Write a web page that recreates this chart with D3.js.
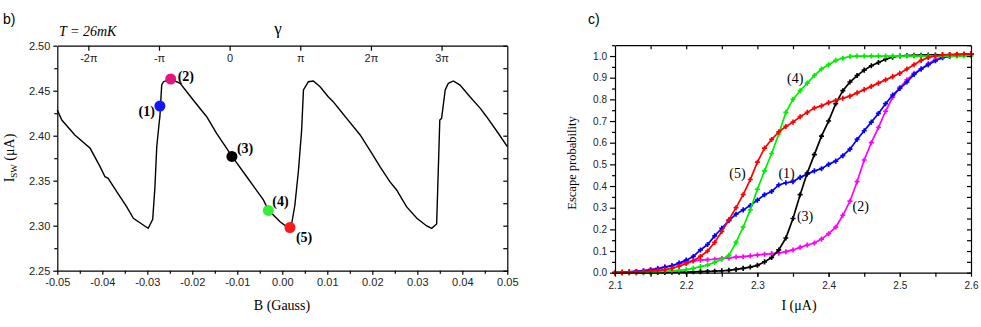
<!DOCTYPE html>
<html lang="en">
<head>
<meta charset="utf-8">
<script src="https://cdnjs.cloudflare.com/ajax/libs/d3/7.8.5/d3.min.js"></script>
<style>
  body { margin: 0; background: #fff; }
  .tick text { font-family: Arial, 'Liberation Sans', sans-serif; fill: #222; }
  .domain, .tick line { stroke: #000; stroke-width: 1.2; }
  .serif { font-family: 'Times New Roman', 'Liberation Serif', serif; fill: #000; }
  .sans { font-family: Arial, 'Liberation Sans', sans-serif; fill: #000; }
</style>
</head>
<body>
<svg id="fig" width="981" height="327"></svg>
<script>
// ---- panel b) : switching current vs field ----
const fieldB = [-0.05, -0.049, -0.0461, -0.0427, -0.0405, -0.0394, -0.0387, -0.0368, -0.0346, -0.0331,
  -0.0309, -0.0298, -0.0288, -0.0283, -0.0279, -0.0273, -0.0272, -0.0268, -0.0264, -0.0248,
  -0.0227, -0.0198, -0.0168, -0.0146, -0.0112, -0.0079, -0.0042, -0.0031, -0.0005, 0.001,
  0.0017, 0.0021, 0.0028, 0.0036, 0.0043, 0.0047, 0.0058, 0.0069, 0.0084, 0.0102,
  0.0113, 0.0128, 0.0143, 0.0173, 0.0199, 0.0217, 0.0239, 0.0254, 0.0276, 0.0299,
  0.0321, 0.0332, 0.0343, 0.035, 0.0354, 0.0362, 0.0369, 0.038, 0.0395, 0.0417,
  0.044, 0.0454, 0.048, 0.05]
const switchI = [2.4286, 2.4174, 2.4008, 2.386, 2.3656, 2.3544, 2.3527, 2.3378, 2.3211, 2.3082,
  2.3008, 2.2971, 2.3071, 2.3433, 2.3878, 2.4174, 2.4211, 2.4563, 2.46, 2.463,
  2.4582, 2.4397, 2.4211, 2.4027, 2.3774, 2.3544, 2.3286, 2.3174, 2.3044, 2.2989,
  2.2989, 2.3027, 2.323, 2.3619, 2.4063, 2.4508, 2.46, 2.4608, 2.4544, 2.4433,
  2.4378, 2.4286, 2.4193, 2.4008, 2.3804, 2.3656, 2.3489, 2.3397, 2.3211, 2.3082,
  2.2997, 2.2971, 2.3019, 2.4174, 2.4193, 2.4508, 2.4582, 2.4608, 2.4563, 2.4433,
  2.4304, 2.4211, 2.4027, 2.3878]

const pointB = [-0.0272, -0.0248, -0.0112, -0.0031, 0.0017]
const pointI = [2.433, 2.463, 2.377, 2.317, 2.298]
const pointColor = ['#1414ff', '#e3167f', '#000000', '#33ee33', '#ff1a1a']
const pointLabel = ['(1)', '(2)', '(3)', '(4)', '(5)']

const bTicks = [-0.05, -0.04, -0.03, -0.02, -0.01, 0.00, 0.01, 0.02, 0.03, 0.04, 0.05]
const bMinor = [-0.045, -0.035, -0.025, -0.015, -0.005, 0.005, 0.015, 0.025, 0.035, 0.045]
const iTicks = [2.25, 2.30, 2.35, 2.40, 2.45, 2.50]
const iMinor = [2.275, 2.325, 2.375, 2.425, 2.475]
const gammaTicks = [-2, -1, 0, 1, 2, 3]
const gammaLabels = ['-2\u03c0', '-\u03c0', '0', '\u03c0', '2\u03c0', '3\u03c0']
const gammaZeroB = -0.0117, gaussPerPi = 0.0157

// ---- panel c) : escape probability ----
const probCurrent = [2.10, 2.11, 2.12, 2.13, 2.14, 2.15, 2.16, 2.17, 2.18, 2.19,
  2.20, 2.21, 2.22, 2.23, 2.24, 2.25, 2.26, 2.27, 2.28, 2.29,
  2.30, 2.31, 2.32, 2.33, 2.34, 2.35, 2.36, 2.37, 2.38, 2.39,
  2.40, 2.41, 2.42, 2.43, 2.44, 2.45, 2.46, 2.47, 2.48, 2.49,
  2.50, 2.51, 2.52, 2.53, 2.54, 2.55, 2.56, 2.57, 2.58, 2.59, 2.60]
const prob1 = [0, 0.002, 0.004, 0.006, 0.008, 0.012, 0.018, 0.025, 0.032, 0.045,
  0.058, 0.075, 0.105, 0.13, 0.17, 0.205, 0.24, 0.27, 0.29, 0.31,
  0.335, 0.36, 0.375, 0.405, 0.415, 0.42, 0.44, 0.455, 0.47, 0.48,
  0.50, 0.515, 0.54, 0.57, 0.615, 0.655, 0.695, 0.735, 0.78, 0.82,
  0.85, 0.88, 0.915, 0.94, 0.96, 0.978, 0.992, 0.998, 1.003, 1.007, 1.01]
const prob2 = [0, 0.002, 0.004, 0.006, 0.01, 0.015, 0.02, 0.027, 0.033, 0.04,
  0.05, 0.055, 0.058, 0.06, 0.062, 0.066, 0.068, 0.072, 0.074, 0.078,
  0.082, 0.085, 0.088, 0.09, 0.097, 0.105, 0.117, 0.128, 0.137, 0.155,
  0.18, 0.21, 0.265, 0.33, 0.42, 0.52, 0.60, 0.67, 0.745, 0.81,
  0.855, 0.89, 0.92, 0.94, 0.965, 0.985, 0.995, 1.0, 1.004, 1.007, 1.01]
const prob3 = [0, 0, 0, 0, 0, 0, 0.001, 0.001, 0.002, 0.002,
  0.003, 0.004, 0.005, 0.006, 0.007, 0.009, 0.011, 0.015, 0.02, 0.026,
  0.034, 0.05, 0.07, 0.105, 0.16, 0.25, 0.36, 0.46, 0.545, 0.63,
  0.70, 0.78, 0.84, 0.88, 0.91, 0.935, 0.955, 0.97, 0.985, 0.995,
  1.0, 1.002, 1.003, 1.004, 1.005, 1.005, 1.006, 1.006, 1.007, 1.007, 1.007]
const prob4 = [0, 0, 0, 0, 0.001, 0.002, 0.004, 0.006, 0.008, 0.011,
  0.014, 0.02, 0.028, 0.035, 0.048, 0.062, 0.08, 0.14, 0.21, 0.29,
  0.385, 0.47, 0.55, 0.64, 0.74, 0.80, 0.84, 0.875, 0.91, 0.94,
  0.96, 0.98, 0.99, 0.998, 1.0, 1.0, 1.0, 1.0, 1.0, 1.0,
  1.0, 1.0, 1.0, 1.0, 1.0, 1.0, 1.0, 1.0, 1.0, 1.0, 1.0]
const prob5 = [0, 0.001, 0.002, 0.003, 0.005, 0.007, 0.01, 0.014, 0.02, 0.03,
  0.042, 0.055, 0.075, 0.10, 0.14, 0.19, 0.245, 0.30, 0.36, 0.43,
  0.51, 0.575, 0.615, 0.65, 0.675, 0.695, 0.72, 0.74, 0.76, 0.77,
  0.785, 0.795, 0.805, 0.815, 0.83, 0.845, 0.86, 0.875, 0.89, 0.905,
  0.92, 0.94, 0.96, 0.98, 0.993, 1.0, 1.005, 1.007, 1.008, 1.009, 1.01]
const probSeries = [prob1, prob2, prob3, prob4, prob5]
const probColor = ['#0000ff', '#ff00ff', '#000000', '#00ee00', '#ff0000']
const drawOrder = [1, 0, 2, 3, 4]

// curve labels in data units (I, P)
const curveLabelI = [2.341, 2.445, 2.367, 2.353, 2.272]
const curveLabelP = [0.46, 0.308, 0.262, 0.898, 0.462]

const cTicks = [2.1, 2.2, 2.3, 2.4, 2.5, 2.6]
const cHalf = [2.15, 2.2, 2.25, 2.3, 2.35, 2.4, 2.45, 2.5, 2.55]
const pTicks = [0.0, 0.1, 0.2, 0.3, 0.4, 0.5, 0.6, 0.7, 0.8, 0.9, 1.0]
const pMinor = [0.05, 0.15, 0.25, 0.35, 0.45, 0.55, 0.65, 0.75, 0.85, 0.95, 1.05]

const svg = d3.select('#fig')

// ================= panel b =================
const xB = d3.scaleLinear().domain([-0.05, 0.05]).range([57.3, 507.3])
const yB = d3.scaleLinear().domain([2.25, 2.50]).range([270.7, 45.7])
const pb = svg.append('g')

pb.append('g').attr('transform', 'translate(0,' + yB(2.25) + ')')
    .call(d3.axisBottom(xB).tickValues(bTicks).tickSize(4).tickSizeOuter(0).tickPadding(4)
        .tickFormat(d => d.toFixed(2)))
    .selectAll('text').attr('font-size', 11)
pb.append('g').attr('transform', 'translate(0,' + yB(2.25) + ')')
    .call(d3.axisBottom(xB).tickValues(bMinor).tickSize(3).tickFormat(''))
    .select('.domain').remove()
pb.append('g').attr('transform', 'translate(' + xB(-0.05) + ',0)')
    .call(d3.axisLeft(yB).tickValues(iTicks).tickSize(4).tickSizeOuter(0).tickPadding(3)
        .tickFormat(d => d.toFixed(2)))
    .selectAll('text').attr('font-size', 11)
pb.append('g').attr('transform', 'translate(' + xB(-0.05) + ',0)')
    .call(d3.axisLeft(yB).tickValues(iMinor).tickSize(3).tickFormat(''))
    .select('.domain').remove()
pb.append('g').attr('transform', 'translate(' + xB(0.05) + ',0)')
    .call(d3.axisLeft(yB).tickValues(iTicks.concat(iMinor)).tickSize(4).tickSizeOuter(0).tickFormat(''))
pb.append('g').attr('transform', 'translate(0,' + yB(2.50) + ')')
    .call(d3.axisBottom(xB).tickValues(gammaTicks.map(k => gammaZeroB + k * gaussPerPi))
        .tickSize(5).tickSizeOuter(0).tickPadding(4).tickFormat((d, i) => gammaLabels[i]))
    .selectAll('text').attr('font-size', 11)

pb.append('path')
    .datum(fieldB.map((b, i) => [b, switchI[i]]))
    .attr('fill', 'none').attr('stroke', '#000').attr('stroke-width', 1.4)
    .attr('d', d3.line().x(d => xB(d[0])).y(d => yB(d[1])))

const ldx = [-5, 7, 5, 4, 6], ldy = [10, 2, -3, -4, 14]
pointB.forEach((b, i) => {
    pb.append('circle').attr('cx', xB(b)).attr('cy', yB(pointI[i])).attr('r', 5.5)
        .attr('fill', pointColor[i])
    pb.append('text').attr('class', 'serif')
        .attr('x', xB(b) + ldx[i]).attr('y', yB(pointI[i]) + ldy[i])
        .attr('text-anchor', i === 0 ? 'end' : 'start')
        .attr('font-size', 14).attr('font-weight', 'bold').text(pointLabel[i])
})

svg.append('text').attr('class', 'sans').attr('x', 3).attr('y', 24).attr('font-size', 14).text('b)')
svg.append('text').attr('class', 'serif').attr('x', 59).attr('y', 36)
    .attr('font-size', 14).attr('font-style', 'italic').text('T = 26mK')
svg.append('text').attr('class', 'serif').attr('x', 278).attr('y', 34)
    .attr('text-anchor', 'middle').attr('font-size', 17).text('\u03b3')
const yl = svg.append('text').attr('class', 'serif').attr('font-size', 14)
    .attr('text-anchor', 'middle').attr('transform', 'translate(14,158) rotate(-90)')
yl.append('tspan').text('I')
yl.append('tspan').attr('font-size', 9).attr('dy', 3).text('SW')
yl.append('tspan').attr('dy', -3).text(' (\u03bcA)')
svg.append('text').attr('class', 'serif').attr('x', 282).attr('y', 310)
    .attr('text-anchor', 'middle').attr('font-size', 14).text('B (Gauss)')

// ================= panel c =================
const xC = d3.scaleLinear().domain([2.1, 2.6]).range([615, 971])
const yC = d3.scaleLinear().domain([0, 1.05]).range([272.7, 45.2])
const pc = svg.append('g')

drawOrder.forEach(k => {
    const pts = probCurrent.map((c, i) => [c, probSeries[k][i]])
    pc.append('path').datum(pts)
        .attr('fill', 'none').attr('stroke', probColor[k]).attr('stroke-width', 1.7)
        .attr('d', d3.line().x(d => xC(d[0])).y(d => yC(d[1])))
    pc.selectAll(null).data(pts).enter().append('path')
        .attr('transform', d => 'translate(' + xC(d[0]) + ',' + yC(d[1]) + ')')
        .attr('d', d3.symbol(d3.symbolCross, 14))
        .attr('fill', probColor[k])
})

pc.append('g').attr('transform', 'translate(0,' + yC(0) + ')')
    .call(d3.axisBottom(xC).tickValues(cTicks).tickSize(4).tickSizeOuter(0).tickPadding(5)
        .tickFormat(d => d.toFixed(1)))
    .selectAll('text').attr('font-size', 10)
pc.append('g').attr('transform', 'translate(0,' + yC(0) + ')')
    .call(d3.axisBottom(xC).tickValues(cHalf).tickSize(4).tickFormat(''))
    .select('.domain').remove()
pc.append('g').attr('transform', 'translate(' + xC(2.1) + ',0)')
    .call(d3.axisLeft(yC).tickValues(pTicks).tickSize(5).tickSizeOuter(0).tickPadding(3)
        .tickFormat(d => d.toFixed(1)))
    .selectAll('text').attr('font-size', 10)
pc.append('g').attr('transform', 'translate(' + xC(2.1) + ',0)')
    .call(d3.axisLeft(yC).tickValues(pMinor).tickSize(3).tickFormat(''))
    .select('.domain').remove()
pc.append('g').attr('transform', 'translate(' + xC(2.6) + ',0)')
    .call(d3.axisLeft(yC).tickValues(pTicks.concat(pMinor)).tickSize(4).tickSizeOuter(0).tickFormat(''))
pc.append('g').attr('transform', 'translate(0,' + yC(1.05) + ')')
    .call(d3.axisBottom(xC).tickValues(cHalf).tickSize(4).tickSizeOuter(0).tickFormat(''))

pointLabel.forEach((t, i) => {
    pc.append('text').attr('class', 'serif')
        .attr('x', xC(curveLabelI[i])).attr('y', yC(curveLabelP[i]))
        .attr('dy', '0.35em').attr('text-anchor', 'middle').attr('font-size', 14).text(t)
})

svg.append('text').attr('class', 'sans').attr('x', 588).attr('y', 24).attr('font-size', 14).text('c)')
svg.append('text').attr('class', 'serif').attr('font-size', 12.5).attr('text-anchor', 'middle')
    .attr('transform', 'translate(576,163) rotate(-90)').text('Escape probability')
svg.append('text').attr('class', 'serif').attr('x', 799).attr('y', 310)
    .attr('text-anchor', 'middle').attr('font-size', 14).text('I (\u03bcA)')
</script>
</body>
</html>
